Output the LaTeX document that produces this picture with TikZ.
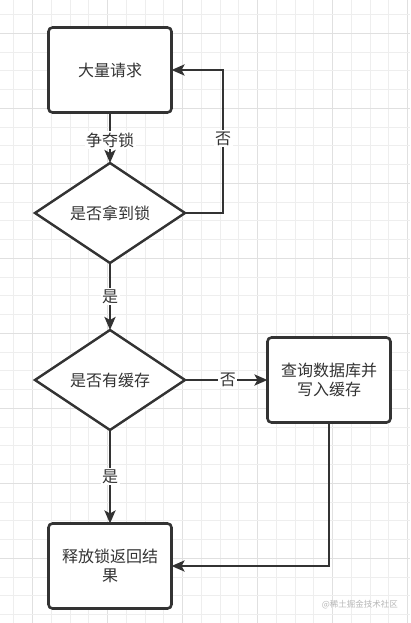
\documentclass[tikz,border=0pt]{standalone}
\usepackage{fontspec}
\setmainfont{Noto Sans CJK SC}
\usetikzlibrary{shapes.geometric,arrows.meta}
\definecolor{ink}{HTML}{333333}
\definecolor{gridminor}{HTML}{EEEEEE}
\definecolor{gridmajor}{HTML}{E0E0E0}
\begin{document}
\begin{tikzpicture}[x=1pt,y=-1pt,
  box/.style={draw=ink,line width=2.6pt,fill=white,rounded corners=4pt,minimum width=123pt,minimum height=85pt,outer sep=0pt,align=center,text=ink,font=\fontsize{16}{19.5}\selectfont},
  decision/.style={draw=ink,line width=2.4pt,fill=white,diamond,minimum width=150pt,minimum height=100pt,inner sep=0pt,outer sep=0pt,text=ink,font=\fontsize{16}{19.5}\selectfont},
  conn/.style={draw=ink,line width=2.6pt,-{Stealth[length=13pt,width=11pt,inset=3pt]}},
  lbl/.style={fill=white,inner sep=1.5pt,text=ink,font=\fontsize{16}{19}\selectfont}
]
\useasboundingbox (0,0) rectangle (410,623);
\fill[white] (0,0) rectangle (410,623);
% grid
\foreach \k in {-1,...,21}{
  \pgfmathsetmacro{\gx}{32.5+18.75*\k}
  \pgfmathtruncatemacro{\m}{mod(\k+4,4)}
  \ifnum\m=0 \draw[gridmajor,line width=1pt] (\gx,0) -- (\gx,623);
  \else \draw[gridminor,line width=0.9pt] (\gx,0) -- (\gx,623); \fi
}
\foreach \k in {-1,...,32}{
  \pgfmathsetmacro{\gy}{33.3+18.75*\k}
  \pgfmathtruncatemacro{\m}{mod(\k+4,4)}
  \ifnum\m=0 \draw[gridmajor,line width=1pt] (0,\gy) -- (410,\gy);
  \else \draw[gridminor,line width=0.9pt] (0,\gy) -- (410,\gy); \fi
}
% nodes
\node[box] (req) at (110,70) {大量请求};
\node[decision] (lock) at (110,213) {是否拿到锁};
\node[decision] (cache) at (110,380) {是否有缓存};
\node[box] (db) at (329,380) {查询数据库并\\写入缓存};
\node[box] (rel) at (110,566) {释放锁返回结\\果};
% connectors
\draw[conn] (req.south) -- node[lbl,pos=0.55] (l1) {争夺锁} (lock.north);
\coordinate (cr) at (223,213);
\draw[conn] (lock.east) -- (cr) |- node[lbl,pos=0.26] (l2) {否} (req.east);
\draw[conn] (lock.south) -- node[lbl,pos=0.5] (l3) {是} (cache.north);
\draw[conn] (cache.east) -- node[lbl,pos=0.52] (l4) {否} (db.west);
\draw[conn] (cache.south) -- node[lbl,pos=0.5] (l5) {是} (rel.north);
\draw[conn] (db.south) |- (rel.east);
% watermark
\node[anchor=east,text=black!28,inner sep=0pt,font=\fontsize{8.5}{10}\selectfont] (wm) at (398,605) {@稀土掘金技术社区};
\end{tikzpicture}
\end{document}
